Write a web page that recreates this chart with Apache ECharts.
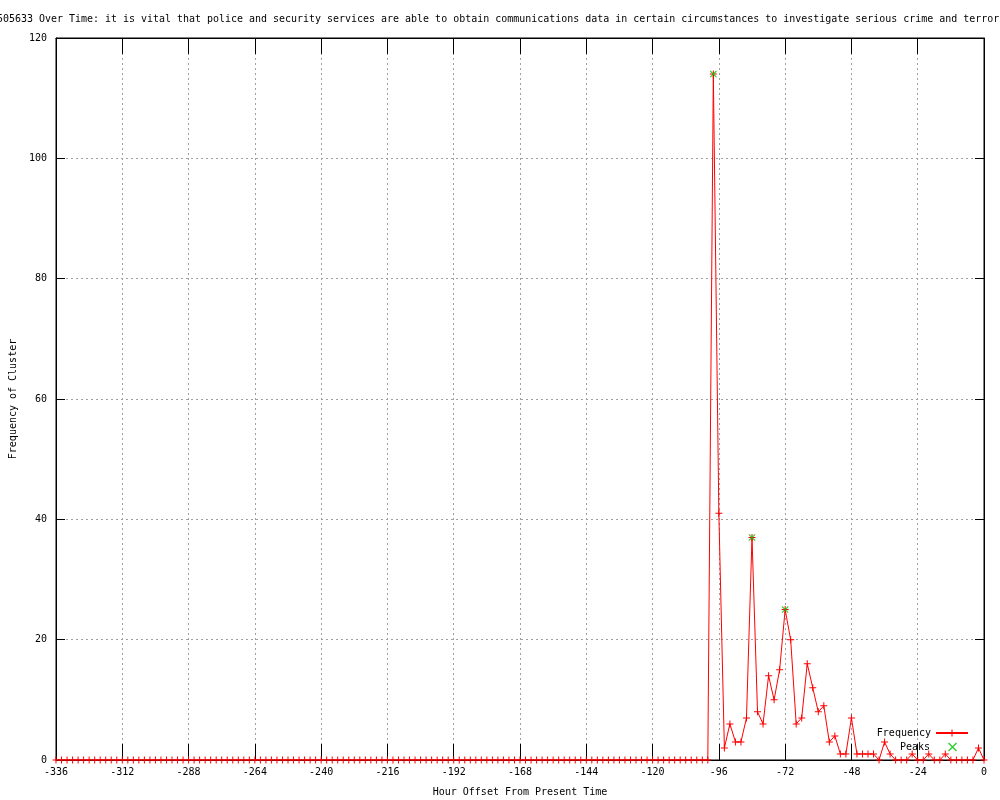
<!DOCTYPE html>
<html><head><meta charset="utf-8">
<script src="https://cdn.jsdelivr.net/npm/echarts@6/dist/echarts.min.js"></script>
<style>html,body{margin:0;padding:0;background:#fff}#c{width:1000px;height:800px}</style>
</head><body><div id="c"></div>
<script>
const titleText = "505633 Over Time: it is vital that police and security services are able to obtain communications data in certain circumstances to investigate serious crime and terrorism";
const xAxisName = "Hour Offset From Present Time";
const yAxisName = "Frequency of Cluster";
const firstHour = -336;
const hourStep = 2;
// frequency per 2-hour bin, from -336 to 0
const frequency = [
  0,0,0,0,0,0,0,0,0,0,0,0,0,0,0,0,0,0,0,0,
  0,0,0,0,0,0,0,0,0,0,0,0,0,0,0,0,0,0,0,0,
  0,0,0,0,0,0,0,0,0,0,0,0,0,0,0,0,0,0,0,0,
  0,0,0,0,0,0,0,0,0,0,0,0,0,0,0,0,0,0,0,0,
  0,0,0,0,0,0,0,0,0,0,0,0,0,0,0,0,0,0,0,0,
  0,0,0,0,0,0,0,0,0,0,0,0,0,0,0,0,0,0,0,
  114,41,2,6,3,3,7,37,8,6,14,10,15,25,20,6,7,16,12,8,
  9,3,4,1,1,7,1,1,1,1,0,3,1,0,0,0,1,0,0,1,
  0,0,1,0,0,0,0,0,2,0
];
const peakHours = [-98, -84, -72];
const peakValues = [114, 37, 25];
const xTicks = {min: -336, max: 0, interval: 24};
const yTicks = {min: 0, max: 120, interval: 20};

const hours = frequency.map((v, i) => firstHour + hourStep * i);
const freqData = frequency.map((v, i) => [hours[i], v]);
const peakData = peakHours.map((h, i) => [h, peakValues[i]]);

const FONT = 'DejaVu Sans Mono';
const plusPath = 'path://M3,0h1v7h-1zM0,3h7v1h-7z';
const crossPath = 'path://M0,0.8L0.8,0L7,6.2L6.2,7ZM6.2,0L7,0.8L0.8,7L0,6.2Z';
const gridLine = {show: true, lineStyle: {color: '#a0a0a0', type: [2, 3], width: 1}};
const txt = {fontFamily: FONT, fontSize: 10, color: '#000'};

const chart = echarts.init(document.getElementById('c'), null, {renderer: 'canvas'});
chart.setOption({
  animation: false,
  backgroundColor: '#fff',
  title: {
    text: titleText, left: -3, top: 14, padding: 0,
    textStyle: {fontFamily: FONT, fontSize: 9.97, color: '#000', fontWeight: 'normal'}
  },
  grid: {left: 56, right: 16, top: 38, bottom: 40, containLabel: false, outerBoundsMode: 'none',
         show: true, borderColor: '#000', borderWidth: 1},
  legend: [
    {data: ['Frequency'], right: 31, top: 728, padding: 0, orient: 'vertical', align: 'right',
     itemWidth: 32, itemHeight: 9, textStyle: txt},
    {data: ['Peaks'], right: 43, top: 742, padding: 0, orient: 'vertical', align: 'right',
     itemWidth: 9, itemHeight: 9, textStyle: Object.assign({padding: [0, 13, 0, 0]}, txt)}
  ],
  xAxis: [
    {type: 'value', min: xTicks.min, max: xTicks.max, interval: xTicks.interval, position: 'bottom',
     name: xAxisName, nameLocation: 'middle', nameGap: 27, nameTextStyle: txt,
     axisLine: {show: true, onZero: false, lineStyle: {color: '#000', width: 1}},
     axisTick: {show: true, inside: true, length: 16, lineStyle: {color: '#000'}},
     axisLabel: Object.assign({margin: 7}, txt),
     splitLine: gridLine},
    {type: 'value', min: xTicks.min, max: xTicks.max, interval: xTicks.interval, position: 'top',
     axisLine: {show: true, onZero: false, lineStyle: {color: '#000'}},
     axisTick: {show: true, inside: true, length: 16, lineStyle: {color: '#000'}},
     axisLabel: {show: false}, splitLine: {show: false}}
  ],
  yAxis: [
    {type: 'value', min: yTicks.min, max: yTicks.max, interval: yTicks.interval, position: 'left',
     name: yAxisName, nameLocation: 'middle', nameGap: 37, nameRotate: 90, nameTextStyle: txt,
     axisLine: {show: true, onZero: false, lineStyle: {color: '#000'}},
     axisTick: {show: true, inside: true, length: 9, lineStyle: {color: '#000'}},
     axisLabel: Object.assign({margin: 9}, txt),
     splitLine: gridLine},
    {type: 'value', min: yTicks.min, max: yTicks.max, interval: yTicks.interval, position: 'right',
     axisLine: {show: true, onZero: false, lineStyle: {color: '#000'}},
     axisTick: {show: true, inside: true, length: 9, lineStyle: {color: '#000'}},
     axisLabel: {show: false}, splitLine: {show: false}}
  ],
  series: [
    {name: 'Frequency', type: 'line', data: freqData, xAxisIndex: 0, yAxisIndex: 0,
     symbol: plusPath, symbolSize: 7, showAllSymbol: true,
     itemStyle: {color: '#ff0000'}, lineStyle: {color: '#ff0000', width: 1}, z: 3},
    {name: 'Peaks', type: 'scatter', data: peakData, xAxisIndex: 0, yAxisIndex: 0,
     symbol: crossPath, symbolSize: 7, itemStyle: {color: '#00c000'}, z: 4}
  ]
});
</script></body></html>
